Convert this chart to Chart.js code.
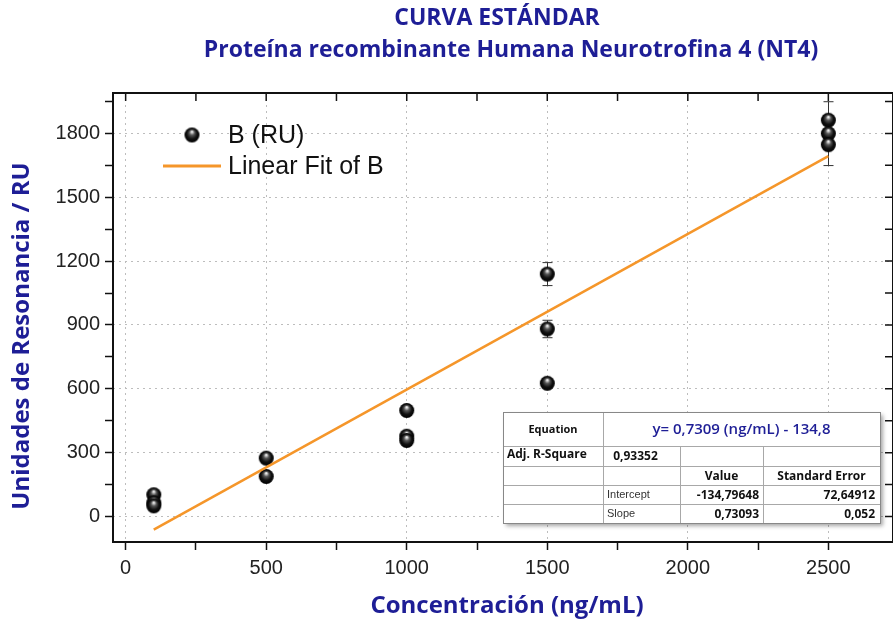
<!DOCTYPE html>
<html>
<head>
<meta charset="utf-8">
<script src="https://cdn.jsdelivr.net/npm/chart.js@4.4.1/dist/chart.umd.min.js"></script>
<style>
  html, body { margin: 0; padding: 0; background: #fff; }
</style>
</head>
<body>
<canvas id="myChart" width="893" height="623"></canvas>
<script>
// Standard curve - NT4, concentration (ng/mL) vs resonance units

var concentration = [100, 100, 100, 500, 500, 1000, 1000, 1000, 1500, 1500, 1500, 2500, 2500, 2500];
var responseRU = [102, 64, 50, 274, 188, 498, 377, 357, 1139, 881, 626, 1862, 1799, 1747];
var errorRU = [0, 0, 0, 0, 0, 0, 0, 0, 54, 41, 18, 0, 150, 0];

// ends of the orange fit line
var fitX = [100, 2500];
var fitY = [-62, 1693];

// axis ticks (majors get labels)
var xTicks = [0, 250, 500, 750, 1000, 1250, 1500, 1750, 2000, 2250, 2500];
var xLabels = [0, 500, 1000, 1500, 2000, 2500];
var yTicks = [0, 150, 300, 450, 600, 750, 900, 1050, 1200, 1350, 1500, 1650, 1800, 1950];
var yLabels = [0, 300, 600, 900, 1200, 1500, 1800];

// fit results table
var equationText = 'y= 0,7309 (ng/mL) - 134,8';
var adjRSquare = '0,93352';
var paramNames = ['Intercept', 'Slope'];
var paramValues = ['-134,79648', '0,73093'];
var paramErrors = ['72,64912', '0,052'];

var navy = '#1e1e96';
var orange = '#f5962a';

function makeSphere(r) {
  var c = document.createElement('canvas');
  c.width = c.height = r * 2 + 2;
  var g = c.getContext('2d');
  var cx = r + 1, cy = r + 1;
  var grad = g.createRadialGradient(cx, cy - r * 0.45, 0.5, cx, cy, r);
  grad.addColorStop(0, '#f4f4f4');
  grad.addColorStop(0.3, '#555');
  grad.addColorStop(0.65, '#111');
  grad.addColorStop(1, '#000');
  g.fillStyle = grad;
  g.beginPath();
  g.arc(cx, cy, r, 0, Math.PI * 2);
  g.fill();
  return c;
}
var sphere = makeSphere(7.5);

var points = concentration.map(function (x, i) { return { x: x, y: responseRU[i] }; });
var fitLine = fitX.map(function (x, i) { return { x: x, y: fitY[i] }; });

// error bars under the points
var errorBars = {
  id: 'errorBars',
  beforeDatasetsDraw: function (chart) {
    var ctx = chart.ctx, xs = chart.scales.x, ys = chart.scales.y;
    ctx.save();
    ctx.strokeStyle = '#333';
    ctx.lineWidth = 1;
    for (var i = 0; i < errorRU.length; i++) {
      if (!errorRU[i]) continue;
      var px = Math.round(xs.getPixelForValue(concentration[i])) + 0.5;
      var top = ys.getPixelForValue(responseRU[i] + errorRU[i]);
      var bot = ys.getPixelForValue(responseRU[i] - errorRU[i]);
      ctx.beginPath();
      ctx.moveTo(px, top); ctx.lineTo(px, bot);
      ctx.moveTo(px - 5, top); ctx.lineTo(px + 5, top);
      ctx.moveTo(px - 5, bot); ctx.lineTo(px + 5, bot);
      ctx.stroke();
    }
    ctx.restore();
  }
};

// box around plot + inward ticks on top/right
var frame = {
  id: 'frame',
  beforeDatasetsDraw: function (chart) {
    var ctx = chart.ctx, a = chart.chartArea;
    var xs = chart.scales.x, ys = chart.scales.y;
    ctx.save();
    ctx.strokeStyle = '#111';
    ctx.lineWidth = 1.5;
    ctx.beginPath();
    xTicks.forEach(function (v) {
      var px = xs.getPixelForValue(v);
      ctx.moveTo(px, a.top); ctx.lineTo(px, a.top + 8);
    });
    yTicks.forEach(function (v) {
      var py = ys.getPixelForValue(v);
      ctx.moveTo(a.right, py); ctx.lineTo(a.right - 8, py);
    });
    ctx.stroke();
    ctx.lineWidth = 2;
    ctx.strokeRect(a.left, a.top, a.right - a.left, a.bottom - a.top);
    ctx.restore();
  }
};

// titles, legend and fit table
var annotations = {
  id: 'annotations',
  afterDraw: function (chart) {
    var ctx = chart.ctx;
    ctx.save();
    ctx.fillStyle = navy;
    ctx.textAlign = 'center';
    ctx.textBaseline = 'middle';
    ctx.font = 'bold 23px "Open Sans"';
    ctx.fillText('CURVA ESTÁNDAR', 497, 18);
    ctx.fillText('Proteína recombinante Humana Neurotrofina 4 (NT4)', 511, 50);

    ctx.font = 'bold 24px "Open Sans"';
    ctx.fillText('Concentración (ng/mL)', 507, 606);
    ctx.save();
    ctx.translate(22, 336);
    ctx.rotate(-Math.PI / 2);
    ctx.fillText('Unidades de Resonancia / RU', 0, 0);
    ctx.restore();

    // legend
    ctx.drawImage(sphere, 192 - sphere.width / 2, 135 - sphere.height / 2);
    ctx.strokeStyle = orange;
    ctx.lineWidth = 3;
    ctx.beginPath();
    ctx.moveTo(163, 166); ctx.lineTo(221, 166);
    ctx.stroke();
    ctx.fillStyle = '#111';
    ctx.textAlign = 'left';
    ctx.font = '25px "Liberation Sans"';
    ctx.fillText('B (RU)', 228, 136);
    ctx.fillText('Linear Fit of B', 228, 167);

    // table
    var cx = [503, 603, 680, 763, 880];
    var ry = [412, 446, 466, 485, 504, 523];
    ctx.save();
    ctx.shadowColor = 'rgba(0,0,0,0.35)';
    ctx.shadowBlur = 4;
    ctx.shadowOffsetX = 3;
    ctx.shadowOffsetY = 3;
    ctx.fillStyle = '#fff';
    ctx.fillRect(cx[0], ry[0], cx[4] - cx[0], ry[5] - ry[0]);
    ctx.restore();
    ctx.strokeStyle = '#a8a8a8';
    ctx.lineWidth = 1;
    ctx.beginPath();
    for (var r = 1; r < 5; r++) {
      ctx.moveTo(cx[0], ry[r] + 0.5); ctx.lineTo(cx[4], ry[r] + 0.5);
    }
    ctx.moveTo(cx[1] + 0.5, ry[0]); ctx.lineTo(cx[1] + 0.5, ry[5]);
    ctx.moveTo(cx[2] + 0.5, ry[1]); ctx.lineTo(cx[2] + 0.5, ry[5]);
    ctx.moveTo(cx[3] + 0.5, ry[1]); ctx.lineTo(cx[3] + 0.5, ry[5]);
    ctx.stroke();
    ctx.strokeStyle = '#888';
    ctx.strokeRect(cx[0] + 0.5, ry[0] + 0.5, cx[4] - cx[0], ry[5] - ry[0]);

    function mid(r) { return (ry[r] + ry[r + 1]) / 2 + 1; }
    ctx.fillStyle = '#111';
    ctx.textAlign = 'center';
    ctx.font = 'bold 11px "Open Sans"';
    ctx.fillText('Equation', (cx[0] + cx[1]) / 2, mid(0));
    ctx.fillStyle = navy;
    ctx.font = '600 15px "Open Sans"';
    ctx.fillText(equationText, (cx[1] + cx[4]) / 2, mid(0));

    ctx.fillStyle = '#111';
    ctx.font = 'bold 12px "Open Sans"';
    ctx.textAlign = 'left';
    ctx.fillText('Adj. R-Square', cx[0] + 4, mid(1) - 2);
    ctx.textAlign = 'center';
    ctx.fillText(adjRSquare, (cx[1] + cx[2]) / 2 - 6, mid(1));
    ctx.fillText('Value', (cx[2] + cx[3]) / 2, mid(2));
    ctx.fillText('Standard Error', (cx[3] + cx[4]) / 2, mid(2));
    for (var p = 0; p < paramNames.length; p++) {
      ctx.font = '11px "Liberation Sans"';
      ctx.fillStyle = '#333';
      ctx.textAlign = 'left';
      ctx.fillText(paramNames[p], cx[1] + 4, mid(3 + p) - 1);
      ctx.font = 'bold 12px "Open Sans"';
      ctx.fillStyle = '#111';
      ctx.textAlign = 'right';
      ctx.fillText(paramValues[p], cx[3] - 4, mid(3 + p));
      ctx.fillText(paramErrors[p], cx[4] - 5, mid(3 + p));
    }
    ctx.restore();
  }
};

function tickObjs(list) {
  return list.map(function (v) { return { value: v }; });
}

var ctx = document.getElementById('myChart');
var myChart = new Chart(ctx, {
  type: 'scatter',
  data: {
    datasets: [
      {
        label: 'Linear Fit of B',
        data: fitLine,
        showLine: true,
        borderColor: orange,
        borderWidth: 2.5,
        pointRadius: 0,
        order: 0
      },
      {
        label: 'B (RU)',
        data: points,
        pointStyle: sphere,
        pointRadius: 7,
        order: 1
      }
    ]
  },
  options: {
    responsive: false,
    animation: false,
    devicePixelRatio: 1,
    // plot box runs just past the right edge, as in the source image
    layout: { autoPadding: false, padding: { top: 93, left: 0, right: -3, bottom: 0 } },
    plugins: {
      legend: { display: false },
      tooltip: { enabled: false }
    },
    scales: {
      x: {
        type: 'linear',
        min: -45,
        max: 2730,
        afterBuildTicks: function (scale) { scale.ticks = tickObjs(xTicks); },
        afterFit: function (scale) {
          scale.height = 81;
          scale.paddingLeft = 0;
          scale.paddingRight = 0;
        },
        ticks: {
          autoSkip: false,
          maxRotation: 0,
          padding: 6,
          color: '#222',
          font: { family: 'Liberation Sans', size: 20 },
          callback: function (v) { return xLabels.indexOf(v) >= 0 ? String(v) : ''; }
        },
        grid: {
          color: function (c) { return c.tick && xLabels.indexOf(c.tick.value) >= 0 ? '#bdbdbd' : 'rgba(0,0,0,0)'; },
          tickColor: '#111',
          tickLength: 8,
          tickWidth: 1.5
        },
        border: { display: false, dash: [2, 4] }
      },
      y: {
        type: 'linear',
        min: -120,
        max: 1990,
        afterBuildTicks: function (scale) { scale.ticks = tickObjs(yTicks); },
        afterFit: function (scale) {
          scale.width = 113;
          scale.paddingTop = 0;
          scale.paddingBottom = 0;
        },
        ticks: {
          autoSkip: false,
          padding: 5,
          color: '#222',
          font: { family: 'Liberation Sans', size: 20 },
          callback: function (v) { return yLabels.indexOf(v) >= 0 ? String(v) : ''; }
        },
        grid: {
          color: function (c) { return c.tick && yLabels.indexOf(c.tick.value) >= 0 ? '#bdbdbd' : 'rgba(0,0,0,0)'; },
          tickColor: '#111',
          tickLength: 8,
          tickWidth: 1.5
        },
        border: { display: false, dash: [2, 4] }
      }
    }
  },
  plugins: [errorBars, frame, annotations]
});
</script>
</body>
</html>
